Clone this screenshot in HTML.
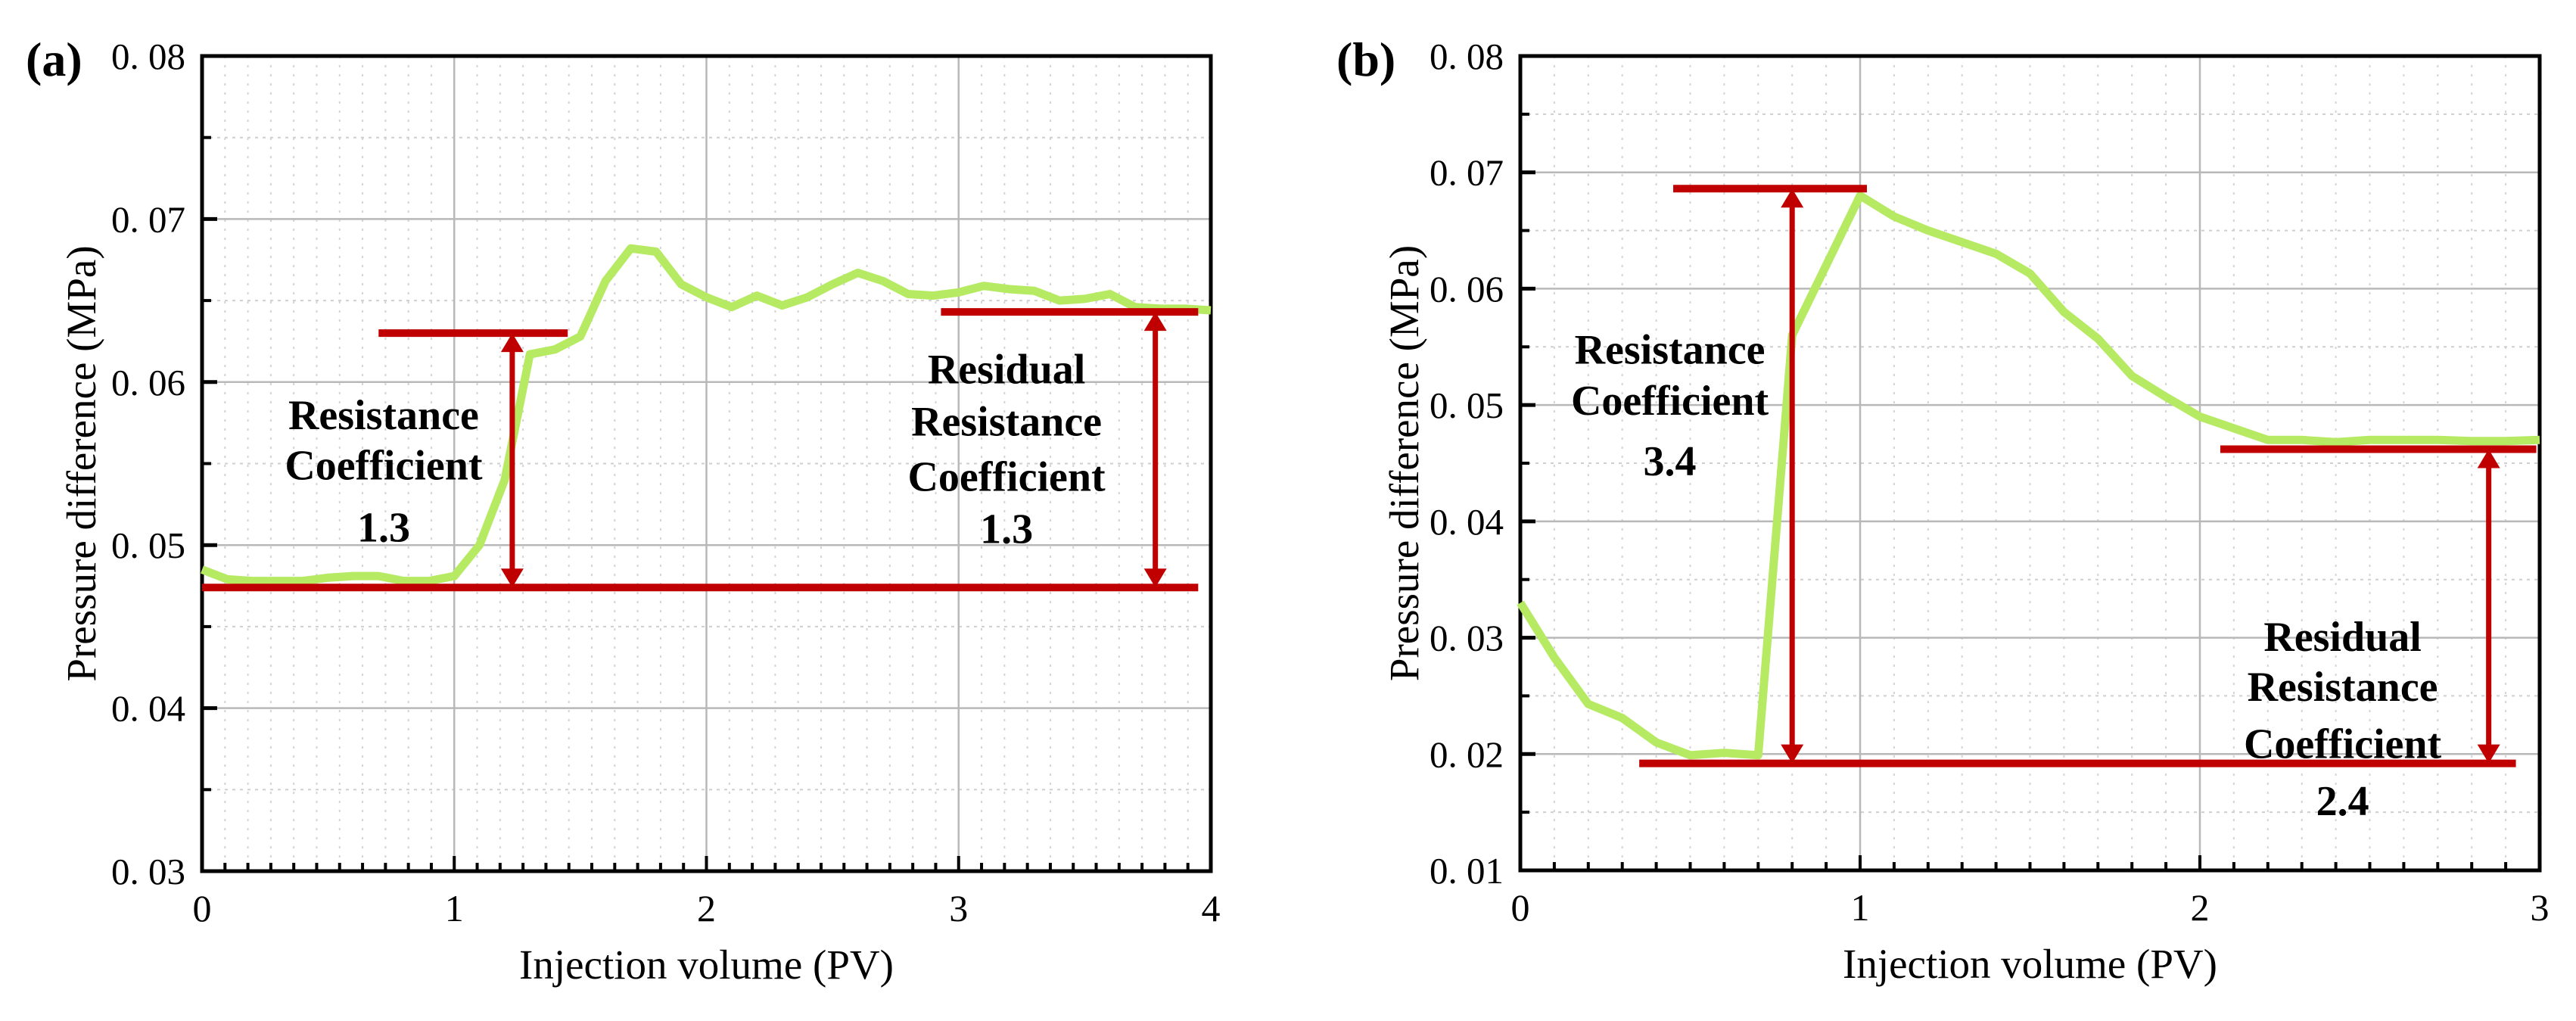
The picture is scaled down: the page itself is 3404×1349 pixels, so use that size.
<!DOCTYPE html>
<html><head><meta charset="utf-8">
<style>
html,body{margin:0;padding:0;background:#fff;}
svg{display:block;}
text{font-family:"Liberation Serif",serif;fill:#000;}
</style></head>
<body>
<svg id="fig" width="3404" height="1349" viewBox="0 0 3404 1349" xmlns="http://www.w3.org/2000/svg"></svg>
<script>
// ---- Panel (a) data ----
const aX = [0,0.1,0.2,0.3,0.4,0.5,0.6,0.7,0.8,0.9,1.0,1.1,1.2,1.3,1.4,1.5,1.6,1.7,1.8,1.9,2.0,2.1,2.2,2.3,2.4,2.5,2.6,2.7,2.8,2.9,3.0,3.1,3.2,3.3,3.4,3.5,3.6,3.7,3.8,3.9,4.0];
const aY = [0.0485,0.0479,0.0478,0.0478,0.0478,0.0480,0.0481,0.0481,0.0478,0.0478,0.0481,0.0500,0.0540,0.0617,0.0620,0.0628,0.0662,0.0682,0.0680,0.0660,0.0652,0.0646,0.0653,0.0647,0.0652,0.0660,0.0667,0.0662,0.0654,0.0653,0.0655,0.0659,0.0657,0.0656,0.0650,0.0651,0.0654,0.0646,0.0645,0.0645,0.0644];
const aXTicks = [0,1,2,3,4];
const aYTicks = [0.03,0.04,0.05,0.06,0.07,0.08];
const aYTickLabels = ["0. 03","0. 04","0. 05","0. 06","0. 07","0. 08"];
const aBase = 0.0474, aTop = 0.0630, aResid = 0.0643;
// ---- Panel (b) data ----
const bX = [0,0.1,0.2,0.3,0.4,0.5,0.6,0.7,0.8,0.9,1.0,1.1,1.2,1.3,1.4,1.5,1.6,1.7,1.8,1.9,2.0,2.1,2.2,2.3,2.4,2.5,2.6,2.7,2.8,2.9,3.0];
const bY = [0.0330,0.0283,0.0243,0.0231,0.0210,0.0199,0.0201,0.0199,0.0560,0.0620,0.0680,0.0662,0.0650,0.0640,0.0630,0.0613,0.0580,0.0557,0.0525,0.0507,0.0490,0.0480,0.0470,0.0470,0.0468,0.0470,0.0470,0.0470,0.0469,0.0469,0.0470];
const bXTicks = [0,1,2,3];
const bYTicks = [0.01,0.02,0.03,0.04,0.05,0.06,0.07,0.08];
const bYTickLabels = ["0. 01","0. 02","0. 03","0. 04","0. 05","0. 06","0. 07","0. 08"];
const bBase = 0.0192, bTop = 0.0686, bResid = 0.0462;

const NS = "http://www.w3.org/2000/svg";
const svg = document.getElementById('fig');
function mk(tag, attrs, parent){
  const e = document.createElementNS(NS, tag);
  for (const k in attrs) e.setAttribute(k, attrs[k]);
  (parent||svg).appendChild(e);
  return e;
}
const RED = "#c00000", GREEN = "#b5ea62";

function panel(cfg){
  const g = mk('g', {});
  
  
  const L=cfg.L,R=cfg.R,T=cfg.T,B=cfg.B;
  const sx = v => L + (v - cfg.x0)/(cfg.x1-cfg.x0)*(R-L);
  const sy = v => B - (v - cfg.y0)/(cfg.y1-cfg.y0)*(B-T);
  const nMinor = cfg.minorX;
  for (let i=0;i<cfg.x1;i++){
    for (let j=1;j<nMinor;j++){
      const x = sx(i + j/nMinor);
      const l = mk('line',{x1:x,x2:x,y1:T,y2:B,stroke:"#d4d4d4","stroke-width":2,"stroke-dasharray":"3 9"},g);
      
      
      const t = mk('line',{x1:x,x2:x,y1:B,y2:B-11,stroke:"#000","stroke-width":4},g);
      
      
    }
  }
  for (let k=0;k<cfg.yTicks.length-1;k++){
    const y = sy((cfg.yTicks[k]+cfg.yTicks[k+1])/2);
    const l = mk('line',{x1:L,x2:R,y1:y,y2:y,stroke:"#cfcfcf","stroke-width":2,"stroke-dasharray":"4 6"},g);
    
    
    const t = mk('line',{x1:L,x2:L+12,y1:y,y2:y,stroke:"#000","stroke-width":4},g);
    
    
  }
  cfg.xTicks.forEach(v=>{
    const x = sx(v);
    const l = mk('line',{x1:x,x2:x,y1:T,y2:B,stroke:"#b8b8b8","stroke-width":2.5},g);
    
    
    const t = mk('line',{x1:x,x2:x,y1:B,y2:B-20,stroke:"#000","stroke-width":4},g);
    
    
    const tx = mk('text',{x:x,y:B+66,"font-size":50,"text-anchor":"middle"},g);
    tx.textContent = String(v);
    
    
  });
  cfg.yTicks.forEach((v,i)=>{
    const y = sy(v);
    const l = mk('line',{x1:L,x2:R,y1:y,y2:y,stroke:"#b8b8b8","stroke-width":2.5},g);
    
    
    const t = mk('line',{x1:L,x2:L+20,y1:y,y2:y,stroke:"#000","stroke-width":5},g);
    
    
    const tx = mk('text',{x:L-22,y:y+17,"font-size":49,"text-anchor":"end"},g);
    tx.textContent = cfg.yLabels[i];
    
    
  });
  const fr = mk('rect',{x:L,y:T,width:R-L,height:B-T,fill:"none",stroke:"#000","stroke-width":5},g);
  
  
  const pts = cfg.xs.map((x,i)=>sx(x).toFixed(1)+","+sy(cfg.ys[i]).toFixed(1)).join(" ");
  const pl = mk('polyline',{points:pts,fill:"none",stroke:GREEN,"stroke-width":11,"stroke-linejoin":"round"},g);
  
  
  function hline(v,x1,x2,name){
    const l = mk('line',{x1:sx(x1),x2:sx(x2),y1:sy(v),y2:sy(v),stroke:RED,"stroke-width":10},g);
    
    
  }
  function arrow(x,v1,v2,name){
    const X=sx(x), Y1=sy(v2), Y2=sy(v1);
    const ag = mk('g',{},g);
    
    
    mk('line',{x1:X,x2:X,y1:Y1+20,y2:Y2-20,stroke:RED,"stroke-width":7},ag);
    mk('polygon',{points:`${X},${Y1} ${X-15},${Y1+25} ${X+15},${Y1+25}`,fill:RED},ag);
    mk('polygon',{points:`${X},${Y2} ${X-15},${Y2-25} ${X+15},${Y2-25}`,fill:RED},ag);
  }
  cfg.hl.forEach(h=>hline(h[0],h[1],h[2],h[3]));
  cfg.ar.forEach(a=>arrow(a[0],a[1],a[2],a[3]));
  cfg.notes.forEach(n=>{
    const t = mk('text',{x:sx(n.x),y:0,"font-size":56,"font-weight":"bold","text-anchor":"middle"},g);
    
    
    n.lines.forEach((s,i)=>{
      const ts = mk('tspan',{x:sx(n.x),y:sy(n.ys[i])+19},t);
      ts.textContent = s;
    });
  });
  const xt = mk('text',{x:(L+R)/2,y:B+142,"font-size":55,"text-anchor":"middle"},g);
  xt.textContent = "Injection volume (PV)";
  
  
  const yt = mk('text',{x:0,y:0,"font-size":55,"text-anchor":"middle",transform:`translate(${cfg.yTitleX},${(T+B)/2}) rotate(-90)`},g);
  yt.textContent = "Pressure difference (MPa)";
  
  
  const pt = mk('text',{x:cfg.tagX,y:100,"font-size":64,"font-weight":"bold"},g);
  pt.textContent = cfg.tag;
  
  
}

panel({id:'a',L:267,R:1600,T:74,B:1151,x0:0,x1:4,y0:0.03,y1:0.08,minorX:11,
  xTicks:aXTicks,yTicks:aYTicks,yLabels:aYTickLabels,xs:aX,ys:aY,yTitleX:126,tagX:34,tag:"(a)",
  hl:[[aBase,0,3.95,'baseline-line'],[aTop,0.7,1.45,'resistance-top-line'],[aResid,2.93,3.95,'residual-top-line']],
  ar:[[1.23,aBase,aTop,'resistance-arrow'],[3.78,aBase,aResid,'residual-arrow']],
  notes:[{x:0.72,ys:[0.0580,0.0549,0.0511],lines:["Resistance","Coefficient","1.3"],name:'resistance-note'},
         {x:3.19,ys:[0.0608,0.0576,0.0542,0.0510],lines:["Residual","Resistance","Coefficient","1.3"],name:'residual-note'}]});

panel({id:'b',L:2009,R:3356,T:74,B:1150,x0:0,x1:3,y0:0.01,y1:0.08,minorX:10,
  xTicks:bXTicks,yTicks:bYTicks,yLabels:bYTickLabels,xs:bX,ys:bY,yTitleX:1874,tagX:1766,tag:"(b)",
  hl:[[bBase,0.35,2.93,'baseline-line'],[bTop,0.45,1.02,'resistance-top-line'],[bResid,2.06,2.99,'residual-top-line']],
  ar:[[0.80,bBase,bTop,'resistance-arrow'],[2.85,bBase,bResid,'residual-arrow']],
  notes:[{x:0.44,ys:[0.0548,0.0504,0.0452],lines:["Resistance","Coefficient","3.4"],name:'resistance-note'},
         {x:2.42,ys:[0.0301,0.0258,0.0209,0.0160],lines:["Residual","Resistance","Coefficient","2.4"],name:'residual-note'}]});
</script>
</body></html>
